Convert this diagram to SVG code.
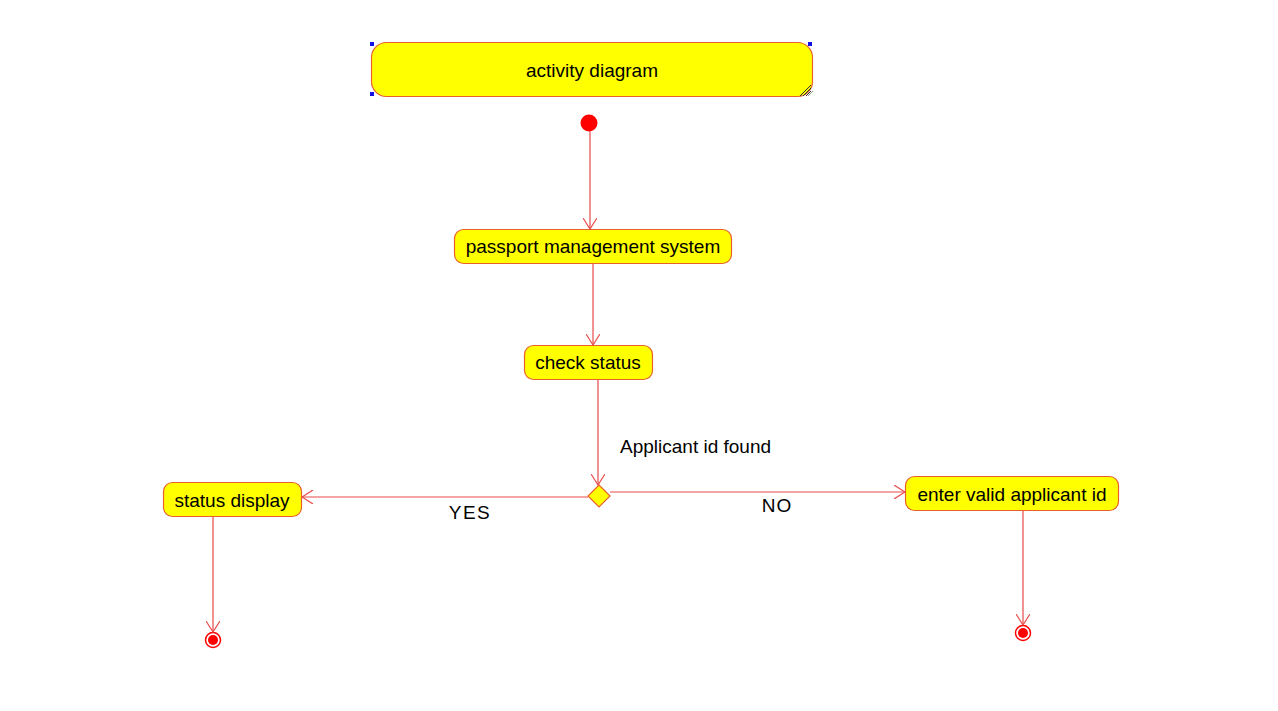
<svg xmlns="http://www.w3.org/2000/svg" width="1278" height="711" viewBox="0 0 1278 711">
<defs>
<style>
.node{fill:#ffff00;stroke:#e8602c;stroke-width:1.2}
.lbl{font-family:"Liberation Sans",Arial,sans-serif;font-size:19px;fill:#000}
.c{text-anchor:middle}
.edge{stroke:#e84a4a;stroke-width:1.2;fill:none}
.handle{fill:#1010e0}
</style>
<marker id="arr" viewBox="0 0 12 14" refX="11" refY="7" markerWidth="12" markerHeight="14" markerUnits="userSpaceOnUse" orient="auto">
<path d="M0,0 L11,7 L0,14" fill="none" stroke="#e84a4a" stroke-width="1.2"/>
</marker>
</defs>
<rect width="1278" height="711" fill="#fff"/>
<g id="title">
<rect class="node" x="371.5" y="42.5" width="441" height="54" rx="15" ry="15"/>
<path d="M800,96 L811,85 M803,96 L811,88 M806,96 L811,91" stroke="#333" stroke-width="1"/>
<path d="M808,96 L813,91" stroke="#999" stroke-width="1"/>
<rect class="handle" x="370" y="42" width="4" height="4"/>
<rect class="handle" x="808" y="42" width="4" height="4"/>
<rect class="handle" x="370" y="92" width="4" height="4"/>
<text class="lbl c" x="592" y="77">activity diagram</text>
</g>
<g id="start">
<circle cx="589" cy="123" r="8.5" fill="#ff0000"/>
</g>
<g id="pms">
<rect class="node" x="454.5" y="229.5" width="277" height="34" rx="9" ry="9"/>
<text class="lbl c" x="593" y="253">passport management system</text>
</g>
<g id="check">
<rect class="node" x="524.5" y="345.5" width="128" height="34" rx="9" ry="9"/>
<text class="lbl c" x="588" y="369">check status</text>
</g>
<g id="decision">
<polygon points="599,485 610,496 599,507 588,496" fill="#ffff00" stroke="#e8602c" stroke-width="1.2"/>
</g>
<g id="display">
<rect class="node" x="163.5" y="482.5" width="138" height="34" rx="9" ry="9"/>
<text class="lbl c" x="232" y="507">status display</text>
</g>
<g id="enter">
<rect class="node" x="905.5" y="476.5" width="213" height="34" rx="9" ry="9"/>
<text class="lbl c" x="1012" y="501">enter valid applicant id</text>
</g>
<g id="end1">
<circle cx="213" cy="640" r="7.5" fill="#fff" stroke="#ff0000" stroke-width="1.5"/>
<circle cx="213" cy="640" r="5" fill="#ff0000"/>
</g>
<g id="end2">
<circle cx="1023" cy="633" r="7.5" fill="#fff" stroke="#ff0000" stroke-width="1.5"/>
<circle cx="1023" cy="633" r="5" fill="#ff0000"/>
</g>
<g id="connectors">
<line class="edge" x1="590" y1="131" x2="590" y2="229" marker-end="url(#arr)"/>
<line class="edge" x1="593" y1="264" x2="593" y2="345" marker-end="url(#arr)"/>
<line class="edge" x1="598" y1="380" x2="598" y2="485" marker-end="url(#arr)"/>
<line class="edge" x1="588" y1="497" x2="302" y2="497" marker-end="url(#arr)"/>
<line class="edge" x1="610" y1="492" x2="905" y2="492" marker-end="url(#arr)"/>
<line class="edge" x1="213" y1="517" x2="213" y2="632" marker-end="url(#arr)"/>
<line class="edge" x1="1023" y1="511" x2="1023" y2="625" marker-end="url(#arr)"/>
<text class="lbl" x="620" y="453">Applicant id found</text>
<text class="lbl c" x="470" y="519" letter-spacing="1.5">YES</text>
<text class="lbl c" x="777" y="512" letter-spacing="1">NO</text>
</g>
</svg>
